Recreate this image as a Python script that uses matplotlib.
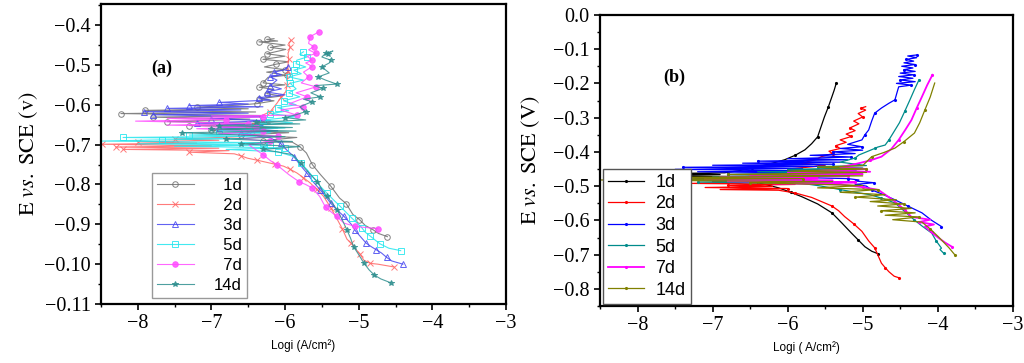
import numpy as np
import matplotlib
matplotlib.use("Agg")
import matplotlib.pyplot as plt
from matplotlib.ticker import MultipleLocator

labels = ["1d", "2d", "3d", "5d", "7d", "14d"]

# ---- panel (a): (log i [A/cm2], E [V]) pairs in scan order ----
a_1d = [(-4.61, -0.931), (-4.73, -0.923), (-4.81, -0.913), (-4.91, -0.903), (-4.99, -0.888), (-5.08, -0.875),
        (-5.17, -0.848), (-5.26, -0.834), (-5.38, -0.804), (-5.52, -0.775), (-5.63, -0.750), (-5.71, -0.721),
        (-5.80, -0.705), (-5.90, -0.694),
        (-6.30, -0.690), (-5.84, -0.682), (-6.60, -0.676), (-5.95, -0.670), (-7.00, -0.664), (-6.10, -0.658),
        (-7.30, -0.652), (-6.20, -0.647), (-7.60, -0.642), (-6.48, -0.636), (-7.80, -0.631), (-6.30, -0.627),
        (-8.23, -0.622), (-6.40, -0.618), (-7.90, -0.614), (-6.50, -0.610), (-7.20, -0.606), (-6.65, -0.601),
        (-6.38, -0.597),
        (-6.15, -0.590), (-6.35, -0.585), (-6.05, -0.578), (-6.25, -0.572), (-6.15, -0.561), (-6.35, -0.556),
        (-6.00, -0.550), (-6.30, -0.545), (-6.23, -0.531), (-5.98, -0.526), (-6.25, -0.518), (-6.00, -0.512),
        (-6.28, -0.505), (-6.12, -0.498), (-5.95, -0.492), (-6.30, -0.486), (-6.00, -0.478), (-6.25, -0.472),
        (-5.99, -0.461), (-6.20, -0.456), (-6.00, -0.450), (-6.355, -0.442), (-6.10, -0.440), (-6.25, -0.436),
        (-6.15, -0.434)]

a_2d = [(-4.52, -1.007), (-4.74, -1.000), (-4.84, -0.998), (-4.93, -0.990), (-4.98, -0.975), (-5.05, -0.960),
        (-5.10, -0.948), (-5.16, -0.937), (-5.22, -0.912), (-5.29, -0.888), (-5.38, -0.858), (-5.48, -0.829),
        (-5.57, -0.812), (-5.66, -0.796), (-5.75, -0.783), (-5.84, -0.771), (-5.93, -0.762), (-6.02, -0.754),
        (-6.14, -0.749), (-6.26, -0.744), (-6.38, -0.739), (-6.51, -0.734), (-6.60, -0.728), (-6.69, -0.723),
        (-7.30, -0.719), (-6.76, -0.715), (-8.20, -0.712), (-6.90, -0.709), (-8.30, -0.706), (-7.00, -0.703),
        (-8.48, -0.699), (-7.20, -0.696), (-8.00, -0.693), (-6.90, -0.689), (-7.50, -0.686), (-6.60, -0.680),
        (-6.45, -0.665), (-6.55, -0.655), (-6.30, -0.640), (-6.35, -0.630), (-6.20, -0.617), (-6.11, -0.596),
        (-6.05, -0.580), (-5.99, -0.567), (-5.97, -0.550), (-5.97, -0.530), (-5.96, -0.515), (-5.96, -0.500),
        (-5.95, -0.485), (-5.96, -0.471), (-5.93, -0.455), (-5.95, -0.446), (-5.92, -0.438)]

a_3d = [(-4.40, -1.000), (-4.55, -0.992), (-4.62, -0.983), (-4.69, -0.972), (-4.76, -0.964), (-4.83, -0.956),
        (-4.90, -0.947), (-4.98, -0.930), (-5.05, -0.915), (-5.10, -0.900), (-5.20, -0.880), (-5.30, -0.863),
        (-5.38, -0.847), (-5.45, -0.830), (-5.52, -0.814), (-5.62, -0.793), (-5.70, -0.772), (-5.80, -0.750),
        (-5.88, -0.730), (-5.98, -0.713), (-6.06, -0.697), (-6.20, -0.683),
        (-6.60, -0.672), (-6.10, -0.665), (-6.90, -0.658), (-6.30, -0.652), (-7.20, -0.646), (-6.20, -0.640),
        (-7.00, -0.635), (-6.30, -0.630), (-7.80, -0.625), (-6.50, -0.621), (-7.91, -0.617), (-6.60, -0.613),
        (-7.60, -0.609), (-6.30, -0.605), (-7.30, -0.602), (-6.50, -0.598), (-6.90, -0.594),
        (-6.20, -0.588), (-6.35, -0.582), (-6.00, -0.575), (-6.25, -0.568), (-6.05, -0.560), (-6.20, -0.552),
        (-6.11, -0.538), (-6.20, -0.530), (-6.05, -0.525), (-6.15, -0.518), (-6.02, -0.513), (-5.96, -0.504)]

a_5d = [(-4.43, -0.966), (-4.59, -0.960), (-4.71, -0.949), (-4.78, -0.939), (-4.84, -0.930), (-4.91, -0.920),
        (-4.96, -0.908), (-5.02, -0.897), (-5.09, -0.885), (-5.16, -0.872), (-5.25, -0.855), (-5.34, -0.839),
        (-5.43, -0.822), (-5.52, -0.805), (-5.61, -0.784), (-5.70, -0.763), (-5.79, -0.746), (-5.88, -0.730),
        (-6.10, -0.718),
        (-6.80, -0.712), (-6.00, -0.708), (-7.50, -0.704), (-6.20, -0.701), (-8.00, -0.698), (-6.30, -0.695),
        (-8.48, -0.691), (-7.67, -0.688), (-6.60, -0.685), (-8.20, -0.682), (-6.40, -0.679), (-7.30, -0.676),
        (-6.20, -0.670), (-6.90, -0.665), (-6.00, -0.658), (-6.50, -0.652), (-5.90, -0.645), (-6.30, -0.638),
        (-5.85, -0.630), (-6.20, -0.622), (-5.95, -0.615),
        (-6.10, -0.607), (-5.85, -0.600), (-6.02, -0.590), (-5.80, -0.580), (-5.95, -0.570), (-5.85, -0.560),
        (-5.93, -0.546), (-5.75, -0.538), (-5.95, -0.530), (-5.78, -0.522), (-5.88, -0.513), (-5.72, -0.505),
        (-5.85, -0.497), (-5.84, -0.488), (-5.70, -0.480), (-5.80, -0.473), (-5.75, -0.467)]

a_7d = [(-4.74, -0.911), (-4.90, -0.908), (-5.05, -0.905), (-5.20, -0.897), (-5.30, -0.880), (-5.38, -0.868),
        (-5.45, -0.857), (-5.53, -0.830), (-5.63, -0.809), (-5.72, -0.800), (-5.81, -0.793), (-5.95, -0.775),
        (-6.11, -0.751), (-6.20, -0.740), (-6.30, -0.725), (-6.49, -0.701),
        (-6.20, -0.692), (-6.60, -0.685), (-6.10, -0.678), (-6.90, -0.672), (-6.30, -0.666), (-7.20, -0.660),
        (-6.40, -0.655), (-7.60, -0.651), (-6.50, -0.647), (-8.03, -0.641), (-6.80, -0.637), (-7.60, -0.634),
        (-6.30, -0.631), (-7.00, -0.628),
        (-5.84, -0.626), (-6.06, -0.613), (-5.75, -0.605), (-5.95, -0.598), (-5.70, -0.580), (-5.85, -0.570),
        (-5.58, -0.555), (-5.78, -0.545), (-5.68, -0.530), (-5.75, -0.518), (-5.63, -0.504), (-5.72, -0.495),
        (-5.63, -0.488), (-5.70, -0.478), (-5.58, -0.471), (-5.68, -0.462), (-5.61, -0.454), (-5.68, -0.446),
        (-5.66, -0.429), (-5.58, -0.421), (-5.54, -0.417)]

a_14d = [(-4.56, -1.047), (-4.70, -1.037), (-4.79, -1.027), (-4.86, -1.014), (-4.93, -0.997), (-5.00, -0.976),
         (-5.07, -0.956), (-5.11, -0.935), (-5.16, -0.914), (-5.22, -0.890), (-5.29, -0.864), (-5.36, -0.847),
         (-5.43, -0.830), (-5.50, -0.812), (-5.56, -0.793), (-5.68, -0.770), (-5.79, -0.747), (-5.90, -0.725),
         (-6.30, -0.712), (-5.80, -0.705), (-6.60, -0.698), (-5.90, -0.692), (-6.80, -0.686), (-6.00, -0.680),
         (-7.40, -0.670), (-5.85, -0.666), (-7.00, -0.661), (-5.90, -0.657), (-6.90, -0.652), (-5.80, -0.648),
         (-6.40, -0.644), (-5.72, -0.638), (-6.00, -0.632),
         (-5.85, -0.625), (-5.72, -0.617), (-5.80, -0.605), (-5.63, -0.592), (-5.75, -0.586), (-5.52, -0.580),
         (-5.65, -0.570), (-5.49, -0.559), (-5.60, -0.552), (-5.30, -0.548), (-5.45, -0.538), (-5.55, -0.530),
         (-5.40, -0.520), (-5.50, -0.505), (-5.40, -0.495), (-5.38, -0.488), (-5.50, -0.480), (-5.45, -0.471),
         (-5.35, -0.465), (-5.42, -0.472)]

# ---- panel (b) ----
b_1d = [(-4.79, -0.698), (-4.88, -0.690), (-4.97, -0.677), (-5.06, -0.657), (-5.15, -0.637), (-5.28, -0.607),
        (-5.41, -0.578), (-5.60, -0.552), (-5.81, -0.531), (-5.96, -0.518), (-6.12, -0.505), (-6.30, -0.495),
        (-6.40, -0.490), (-7.00, -0.487), (-6.30, -0.484), (-7.30, -0.481), (-6.50, -0.478), (-7.60, -0.475),
        (-6.60, -0.472), (-8.30, -0.469), (-6.90, -0.466), (-7.50, -0.463),
        (-6.84, -0.461), (-6.65, -0.455), (-6.48, -0.447), (-6.25, -0.436), (-6.04, -0.423), (-5.90, -0.410),
        (-5.77, -0.394), (-5.68, -0.376), (-5.60, -0.356), (-5.56, -0.330), (-5.51, -0.298), (-5.46, -0.270),
        (-5.41, -0.239), (-5.38, -0.220), (-5.35, -0.198)]

b_2d = [(-4.51, -0.768), (-4.58, -0.763), (-4.65, -0.750), (-4.70, -0.738), (-4.75, -0.725), (-4.80, -0.700),
        (-4.84, -0.680), (-4.92, -0.660), (-5.01, -0.632), (-5.12, -0.610), (-5.24, -0.589), (-5.32, -0.572),
        (-5.41, -0.558), (-5.55, -0.545), (-5.68, -0.533), (-5.90, -0.520),
        (-6.12, -0.512), (-6.90, -0.510), (-6.00, -0.507), (-7.10, -0.504), (-6.20, -0.501), (-6.80, -0.498),
        (-5.90, -0.495), (-7.30, -0.492), (-6.40, -0.489), (-7.00, -0.486), (-6.10, -0.483), (-6.60, -0.479),
        (-5.80, -0.475), (-6.20, -0.470), (-5.60, -0.460), (-6.00, -0.450), (-5.50, -0.440),
        (-5.81, -0.433), (-5.62, -0.422), (-5.55, -0.414), (-5.40, -0.405), (-5.45, -0.398), (-5.30, -0.390),
        (-5.36, -0.382), (-5.22, -0.372), (-5.30, -0.365), (-5.15, -0.355), (-5.22, -0.348), (-5.10, -0.338),
        (-5.17, -0.330), (-5.05, -0.318), (-5.12, -0.310), (-5.00, -0.298), (-5.06, -0.288), (-4.96, -0.278),
        (-5.02, -0.272), (-4.96, -0.268)]

b_3d = [(-3.95, -0.618), (-4.08, -0.600), (-4.21, -0.578), (-4.40, -0.558), (-4.57, -0.540), (-4.72, -0.525),
        (-4.88, -0.511), (-4.95, -0.500), (-5.10, -0.495), (-4.85, -0.490), (-5.10, -0.485), (-5.05, -0.482),
        (-5.20, -0.478), (-6.00, -0.474), (-5.30, -0.470), (-6.80, -0.466), (-5.50, -0.462), (-7.20, -0.458),
        (-5.60, -0.455), (-7.50, -0.451), (-5.80, -0.448), (-7.40, -0.445), (-5.50, -0.442), (-7.00, -0.439),
        (-5.40, -0.436), (-6.60, -0.433), (-5.30, -0.430), (-6.40, -0.427), (-5.20, -0.423), (-6.00, -0.420),
        (-5.15, -0.415), (-5.70, -0.410), (-5.10, -0.405), (-5.40, -0.400), (-5.00, -0.395), (-5.30, -0.390),
        (-5.01, -0.385), (-5.20, -0.378), (-5.01, -0.365),
        (-4.97, -0.350), (-4.92, -0.336), (-4.88, -0.310), (-4.84, -0.287), (-4.75, -0.272), (-4.65, -0.258),
        (-4.57, -0.248), (-4.54, -0.225), (-4.52, -0.210), (-4.35, -0.205), (-4.55, -0.200), (-4.30, -0.195),
        (-4.50, -0.190), (-4.33, -0.185), (-4.52, -0.180), (-4.32, -0.175), (-4.50, -0.170), (-4.30, -0.165),
        (-4.45, -0.160), (-4.33, -0.155), (-4.48, -0.150), (-4.30, -0.145), (-4.45, -0.140), (-4.32, -0.135),
        (-4.42, -0.130), (-4.28, -0.125), (-4.40, -0.120), (-4.28, -0.117)]

b_5d = [(-3.92, -0.696), (-3.97, -0.685), (-3.95, -0.681), (-4.02, -0.660), (-4.08, -0.637), (-4.20, -0.618),
        (-4.31, -0.599), (-4.45, -0.572), (-4.57, -0.549), (-4.75, -0.535), (-4.90, -0.525), (-5.10, -0.518),
        (-5.30, -0.510), (-5.55, -0.500),
        (-5.80, -0.492), (-7.20, -0.488), (-5.60, -0.485), (-7.40, -0.481), (-5.70, -0.477), (-7.00, -0.473),
        (-5.40, -0.470), (-6.80, -0.466), (-5.30, -0.462), (-6.40, -0.458), (-5.10, -0.455), (-6.00, -0.451),
        (-5.00, -0.447), (-5.60, -0.443), (-4.95, -0.440), (-5.30, -0.430), (-5.10, -0.418),
        (-5.05, -0.409), (-4.95, -0.400), (-4.84, -0.390), (-4.80, -0.386), (-4.70, -0.380), (-4.65, -0.365),
        (-4.58, -0.340), (-4.51, -0.315), (-4.44, -0.282), (-4.37, -0.248), (-4.31, -0.218), (-4.25, -0.190)]

b_7d = [(-3.81, -0.677), (-3.90, -0.665), (-3.99, -0.651), (-4.08, -0.635), (-4.17, -0.618), (-4.05, -0.612),
        (-4.25, -0.605), (-4.10, -0.598), (-4.35, -0.590), (-4.44, -0.569), (-4.60, -0.540), (-4.79, -0.511),
        (-5.00, -0.503),
        (-5.30, -0.495), (-6.20, -0.492), (-5.10, -0.489), (-6.80, -0.486), (-5.40, -0.483), (-7.10, -0.480),
        (-5.60, -0.477), (-6.90, -0.474), (-5.20, -0.471), (-6.50, -0.468), (-5.00, -0.465), (-6.00, -0.462),
        (-4.90, -0.458), (-5.60, -0.455), (-4.95, -0.450), (-5.30, -0.445), (-5.05, -0.433),
        (-4.90, -0.425), (-4.75, -0.414), (-4.62, -0.392), (-4.52, -0.365), (-4.43, -0.335), (-4.35, -0.307),
        (-4.28, -0.272), (-4.21, -0.239), (-4.14, -0.205), (-4.07, -0.175)]

b_14d = [(-3.77, -0.701), (-3.85, -0.680), (-3.99, -0.648), (-4.10, -0.625), (-4.21, -0.605), (-4.60, -0.598),
         (-4.25, -0.590), (-4.70, -0.585), (-4.30, -0.578), (-4.75, -0.572), (-4.35, -0.565), (-4.80, -0.558),
         (-4.45, -0.552), (-4.90, -0.545), (-4.55, -0.540), (-5.10, -0.532), (-4.70, -0.525), (-5.30, -0.518),
         (-4.80, -0.510), (-5.60, -0.505), (-5.00, -0.498), (-6.50, -0.490), (-5.40, -0.487), (-8.50, -0.482),
         (-5.80, -0.478), (-7.80, -0.475), (-5.00, -0.470), (-6.80, -0.466), (-4.95, -0.460), (-6.00, -0.456),
         (-4.95, -0.450), (-5.60, -0.445), (-5.00, -0.440),
         (-4.88, -0.414), (-4.72, -0.402), (-4.57, -0.389), (-4.45, -0.370), (-4.31, -0.345), (-4.24, -0.315),
         (-4.17, -0.277), (-4.10, -0.240), (-4.04, -0.199)]

a_yticks = [-0.4, -0.5, -0.6, -0.7, -0.8, -0.9, -1.0, -1.1]
a_yticklabels = ["\u22120.4", "\u22120.5", "\u22120.6", "\u22120.7", "\u22120.8", "\u22120.9", "\u22120.10", "\u22120.11"]
b_yticks = [0.0, -0.1, -0.2, -0.3, -0.4, -0.5, -0.6, -0.7, -0.8]
b_yticklabels = ["0.0", "\u22120.1", "\u22120.2", "\u22120.3", "\u22120.4", "\u22120.5", "\u22120.6", "\u22120.7", "\u22120.8"]
xticks = [-8, -7, -6, -5, -4, -3]
xticklabels = ["\u22128", "\u22127", "\u22126", "\u22125", "\u22124", "\u22123"]

a_series = [a_1d, a_2d, a_3d, a_5d, a_7d, a_14d]
b_series = [b_1d, b_2d, b_3d, b_5d, b_7d, b_14d]

a_colors = ["#6e6e6e", "#ff6464", "#4646f0", "#22e6ee", "#ff4cff", "#2f8f8f"]
a_markers = ["o", "x", "^", "s", "o", "*"]
a_fill = ["none", "none", "none", "none", "#ff4cff", "#2f8f8f"]
b_colors = ["#000000", "#ff0000", "#0000ff", "#008b8b", "#ff00ff", "#808000"]

plt.rcParams["mathtext.fontset"] = "stix"
serif = ["Liberation Serif", "DejaVu Serif"]
sans = ["Liberation Sans", "DejaVu Sans"]

fig = plt.figure(figsize=(10.24, 3.63), dpi=100)
ax_a = fig.add_axes([0.0986, 0.1625, 0.3955, 0.8265])
ax_b = fig.add_axes([0.586, 0.157, 0.403, 0.802])

for pts, lab, c, m, f in zip(a_series, labels, a_colors, a_markers, a_fill):
    x, e = np.array(pts).T
    ax_a.plot(x, e, color=c, lw=0.8, alpha=0.85, marker=m, ms=4, mfc=f, mec=c, mew=0.7, markevery=2,
              label="  " + lab if len(lab) == 2 else lab)

for pts, lab, c in zip(b_series, labels, b_colors):
    x, e = np.array(pts).T
    ax_b.plot(x, e, color=c, lw=1.3 if lab == "7d" else 0.9, marker=".", ms=2.5, markevery=3, label=lab)

ax_a.set_ylim(-1.1, -0.347)
ax_a.set_yticks(a_yticks, a_yticklabels)
ax_b.set_ylim(-0.85, 0.0)
ax_b.set_yticks(b_yticks, b_yticklabels)

for ax in (ax_a, ax_b):
    ax.set_xlim(-8.5, -3)
    ax.set_xticks(xticks, xticklabels)
    ax.xaxis.set_minor_locator(MultipleLocator(0.5))
    ax.yaxis.set_minor_locator(MultipleLocator(0.05))
    ax.tick_params(which="major", direction="out", length=4.5, width=1.2, labelsize=14.5,
                   top=False, right=False, pad=3)
    ax.tick_params(which="minor", direction="out", length=2.5, width=1.0, top=False, right=False)
    for lbl in ax.get_xticklabels() + ax.get_yticklabels():
        lbl.set_family(serif)
    for sp in ax.spines.values():
        sp.set_linewidth(1.6)

ax_a.set_ylabel(r"$\mathrm{E}\ \mathit{vs.}\ \mathrm{SCE\ (v)}$", fontsize=16, labelpad=3)
ax_b.set_ylabel(r"$\mathrm{E}\ \mathit{vs.}\ \mathrm{SCE\ (V)}$", fontsize=16, labelpad=8)

ax_a.set_xlabel("Logi (A/cm\u00b2)", family=sans, fontsize=8.5, labelpad=4)
ax_b.set_xlabel("Logi ( A/cm\u00b2)", family=sans, fontsize=8.5, labelpad=4)

ax_a.text(0.15, 0.787, "(a)", transform=ax_a.transAxes, ha="center", va="center",
          family=serif, fontweight="bold", fontsize=13)
ax_b.text(0.18, 0.787, "(b)", transform=ax_b.transAxes, ha="center", va="center",
          family=serif, fontweight="bold", fontsize=13)

leg_a = ax_a.legend(loc="lower left", bbox_to_anchor=(0.126, 0.02), borderaxespad=0,
                    prop={"family": sans, "size": 12}, handlelength=2.2, handletextpad=1.2,
                    labelspacing=0.3, borderpad=0.3, fancybox=False, framealpha=1)
leg_a.get_frame().set_edgecolor("#999999")
leg_b = ax_b.legend(loc="lower left", bbox_to_anchor=(0.007, 0.007), borderaxespad=0,
                    prop={"family": sans, "size": 13}, handlelength=2.0, handletextpad=0.6,
                    labelspacing=0.25, borderpad=0.3, fancybox=False, framealpha=1)
leg_b.get_frame().set_edgecolor("#555555")

fig.savefig("out.png", dpi=100)
